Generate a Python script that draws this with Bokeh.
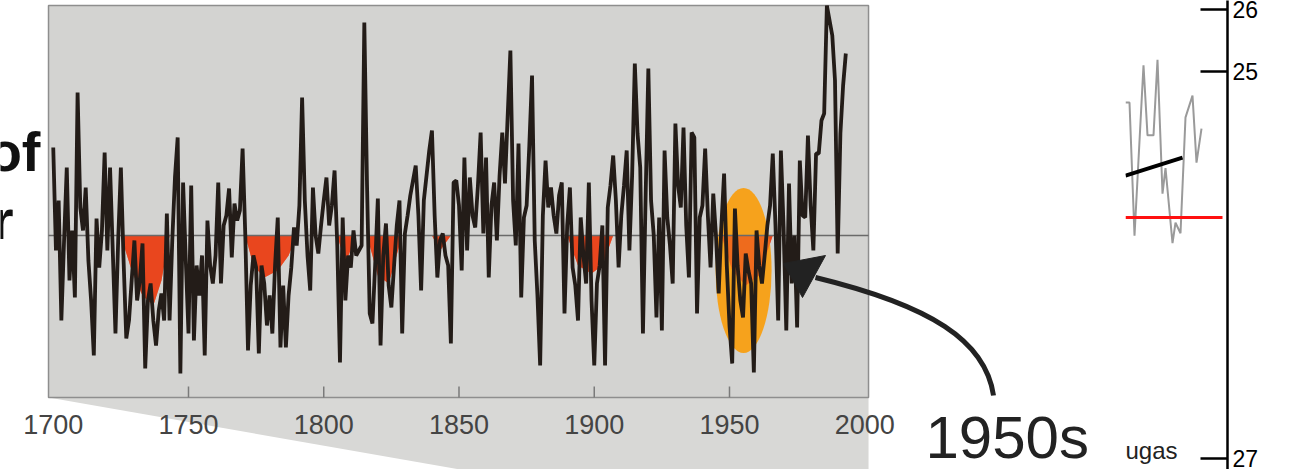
from bokeh.plotting import figure
from bokeh.models import Range1d, FixedTicker
from bokeh.layouts import row
from bokeh.core.properties import value
from bokeh.embed import file_html
from bokeh.resources import INLINE

# ---------------- data ----------------
years = list(range(1700, 1994))
anomaly = [
    0.88, -0.15, 0.35, -0.85, -0.05, 0.68, -0.45, 0.05, -0.62, 1.43,
    0.28, 0.05, 0.48, -0.25, -0.65, -1.2, 0.17, -0.32, 0.05, 0.83,
    -0.15, 0.68, -0.15, -0.98, -0.05, 0.68, -0.25, -1.03, -0.85, -0.45,
    -0.05, -0.65, -0.45, -0.08, -1.33, -0.65, -0.48, -0.85, -1.1, -0.75,
    -0.58, -0.85, 0.22, -0.85, -0.05, 0.58, 0.98, -1.38, 0.53, -0.25,
    -0.98, 0.5, -1.05, -0.3, -0.6, -0.2, -1.2, 0.15, -0.3, -0.48,
    -0.2, 0.53, -0.48, 0.1, 0.2, 0.47, -0.22, 0.32, 0.15, 0.25,
    0.87, 0.0, -1.15, -0.5, -0.2, -0.32, -1.18, -0.3, -0.48, -0.9,
    -0.6, -0.98, -0.3, 0.18, -1.12, -0.5, -1.12, -0.6, -0.32, 0.08,
    -0.1, 0.3, 1.38, 0.35, -0.2, -0.55, 0.48, 0.0, -0.18, 0.1,
    0.35, 0.58, 0.1, 0.3, 0.65, -0.1, -1.27, 0.18, -0.65, -0.2,
    -0.32, 0.05, -0.2, -0.15, -0.1, 2.13, 0.5, -0.78, -0.88, -0.3,
    0.37, -1.1, -0.2, 0.12, -0.5, -0.72, -0.3, 0.1, 0.35, -0.98,
    0.02, 0.2, 0.4, 0.55, 0.7, 0.2, -0.55, 0.35, 0.6, 0.85,
    1.05, 0.2, -0.42, -0.05, 0.02, -0.2, -0.3, -1.08, 0.53, 0.55,
    0.3, -0.35, 0.78, -0.15, 0.58, 0.2, 0.08, 0.5, 1.03, 0.02,
    0.78, -0.42, 0.3, 0.53, -0.05, 0.6, 1.03, 0.52, 1.2, 1.85,
    0.35, -0.1, 0.92, -0.62, 0.18, 0.3, 0.9, 1.6, -0.05, -0.6,
    -1.3, 0.2, 0.75, 0.28, 0.48, 0.2, 0.02, 0.4, 0.53, -0.78,
    0.1, 0.48, -0.32, -0.5, -0.85, 0.18, -0.2, -0.48, 0.53, -0.65,
    -1.3, -0.48, -0.3, 0.1, -1.3, 0.28, 0.5, 0.8, 0.35, -0.32,
    0.2, 0.5, 0.85, -0.15, 0.6, 1.72, 1.02, 0.68, -0.98, 0.4,
    1.67, 0.35, 0.0, -0.82, 0.18, -0.95, 0.85, 0.18, -0.1, -0.48,
    1.12, 0.5, 0.28, 1.08, 0.1, -0.42, 1.03, 0.98, -0.78, 0.18,
    0.3, 0.87, 0.2, -0.32, 0.42, 0.0, -0.58, 0.1, 0.62, -0.3,
    -0.9, -1.28, 0.27, -0.3, -0.65, -0.82, -0.18, -0.35, -0.48, -1.37,
    0.05, -0.3, -0.48, -0.2, 0.1, 0.3, 0.82, 0.1, -0.85, 0.85,
    0.08, -0.95, 0.52, -0.48, 0.0, -0.92, 0.75, 0.2, 0.18, 1.0,
    0.3, -0.15, 0.82, 0.82, 1.15, 1.22, 2.3, 2.15, 2.0, 1.55,
    -0.18, 1.02, 1.5, 1.82,
]

# low-frequency negative phases (red shading)
smooth_years = [1698.3, 1725, 1729, 1733, 1737, 1740, 1743, 1771, 1774, 1778,
                1783, 1787, 1790, 1805, 1808, 1812, 1816, 1820, 1824, 1829,
                1840, 1843, 1847, 1890, 1894, 1899, 1903, 1907, 1947, 1951,
                1956, 1961, 1966, 2001]
smooth_vals = [0, 0, -0.35, -0.6, -0.7, -0.45, 0, 0, -0.3, -0.42,
               -0.35, -0.2, 0, 0, -0.28, 0, 0, -0.4, -0.48, 0,
               0, -0.15, 0, 0, -0.3, -0.38, -0.3, 0, 0, -0.35,
               -0.5, -0.4, 0, 0]

tick_years = [1700, 1750, 1800, 1850, 1900, 1950, 2000]
tick_labels = [str(t) for t in tick_years]

# highlighted decade
hl_year = [1955.2]
hl_val = [-0.35]

# small right-hand panel (excerpt of another chart)
mini_x = [0, 4, 9, 18, 22, 28, 32, 37, 40, 47, 50, 55, 60, 67, 71, 76]
mini_gray = [24.50, 24.50, 22.35, 25.10, 23.97, 23.97, 25.19, 23.03, 23.44,
             22.23, 22.56, 22.39, 24.26, 24.61, 23.53, 24.08]
mini_trend_x = [0, 57]
mini_trend = [23.32, 23.61]
mini_ref_x = [0, 97]
mini_ref = [22.645, 22.645]
mini_ticks = [26.0, 25.0, 18.76]
mini_tick_labels = ["26", "25", "27"]

FONT = value("Liberation Sans")

# ---------------- main figure ----------------
PX = 2.705            # pixels per year
Y0 = 1680.50          # year at canvas x = 0
main = figure(width=1125, height=469,
              x_range=Range1d(Y0, Y0 + 1125 / PX),
              y_range=Range1d(-2.34, 2.35),
              x_axis_location=None, y_axis_location=None,
              toolbar_location=None, output_backend="svg",
              min_border=0)
main.outline_line_color = None
main.grid.visible = False
main.background_fill_color = "white"
main.border_fill_color = "white"

xl = (1698.25, 2001.4)
yl = (-1.62, 2.30)

# wedge below the panel
main.patch(x=[xl[0], xl[1], xl[1], 1854.6], y=[yl[0], yl[0], -2.36, -2.36],
           fill_color="#d8d8d6", line_color=None)
# panel
main.quad(left=[xl[0]], right=[xl[1]], bottom=[yl[0]], top=[yl[1]],
          fill_color="#d3d3d1", line_color="#8e8e8e", line_width=1.5)

# red shading
main.varea(x=smooth_years, y1=[0] * len(smooth_vals), y2=smooth_vals,
           fill_color="#e9461e")
# orange ellipse
main.ellipse(x=hl_year, y=hl_val, width=20.7, height=1.65,
             fill_color="#f6a21c", line_color=None)
main.varea(x=smooth_years, y1=[0] * len(smooth_vals), y2=smooth_vals,
           fill_color="#e9461e", fill_alpha=0.6)
# zero line
main.line(x=list(xl), y=[0, 0], line_color="#6a6a6a", line_width=1.5)
# series
main.line(x=years, y=anomaly, line_color="#231c18", line_width=3.8)

# ticks and labels
inner = tick_years[1:-1]
main.segment(x0=inner, y0=[yl[0]] * len(inner), x1=inner,
             y1=[yl[0] + 0.11] * len(inner), line_color="#7a7a7a", line_width=1.5)
main.text(x=tick_years, y=[-1.89] * len(tick_years), text=tick_labels,
          text_font=FONT, text_font_size=value("27px"), text_color="#444444",
          text_align="center", text_baseline="middle")

# arrow
main.bezier(x0=[2047.60], y0=[-1.60], cx0=[2044.64], cy0=[-1.05],
            cx1=[2024.31], cy1=[-0.70], x1=[1981.79], y1=[-0.42],
            line_color="#222222", line_width=5)
main.patch(x=[1985.49, 1976.99, 1969.96], y=[-0.20, -0.62, -0.28],
           fill_color="#222222", line_color="#222222", line_width=1)

main.text(x=[2022.46], y=[-2.02], text=["1950s"], text_font=FONT,
          text_font_size=value("60px"), text_color="#222222",
          text_align="left", text_baseline="middle")

# cut-off words at left edge
main.text(x=[1695.29, 1685.31], y=[0.84, 0.16], text=["of", "r"],
          text_font=FONT, text_font_size=value("56px"), text_font_style="bold",
          text_color="#111111", text_align="right", text_baseline="middle")

# ---------------- mini figure ----------------
mini = figure(width=174, height=469,
              x_range=Range1d(0, 102), y_range=Range1d(18.58, 26.145),
              x_axis_location=None, y_axis_location="right",
              toolbar_location=None, output_backend="svg",
              min_border_left=0, min_border_top=0, min_border_bottom=0,
              min_border_right=72)
mini.outline_line_color = None
mini.grid.visible = False
ax = mini.yaxis[0]
ax.ticker = FixedTicker(ticks=mini_ticks)
ax.major_label_overrides = dict(zip(mini_ticks, mini_tick_labels))
ax.axis_line_color = "black"
ax.axis_line_width = 2.5
ax.major_tick_in = 27
ax.major_tick_out = 0
ax.major_tick_line_width = 2.5
ax.major_tick_line_color = "black"
ax.minor_tick_line_color = None
ax.major_label_text_font = "Liberation Sans"
ax.major_label_text_font_size = "23px"
ax.major_label_text_color = "black"
ax.major_label_standoff = 5

mini.line(x=mini_x, y=mini_gray, line_color="#9a9a9a", line_width=2)
mini.line(x=mini_trend_x, y=mini_trend, line_color="black", line_width=4)
mini.line(x=mini_ref_x, y=mini_ref, line_color="#ff1010", line_width=3)
mini.text(x=[0], y=[18.89], text=["ugas"], text_font=FONT,
          text_font_size=value("24px"), text_color="#222222",
          text_align="left", text_baseline="middle")

layout = row(main, mini, spacing=0)
open("out.html", "w").write(file_html(layout, INLINE))
